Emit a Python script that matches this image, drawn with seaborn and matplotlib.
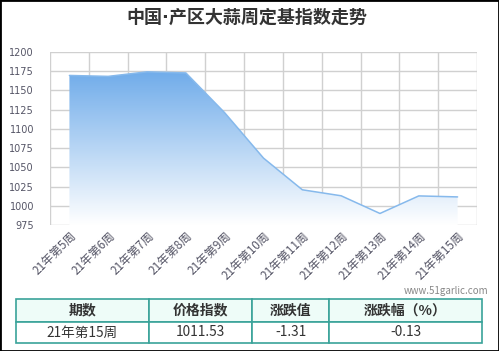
import numpy as np
import pandas as pd
import matplotlib
matplotlib.use('Agg')
import matplotlib.pyplot as plt
import seaborn as sns
from matplotlib.colors import LinearSegmentedColormap
from matplotlib.patches import Rectangle

# data
weeks = ['21年第5周', '21年第6周', '21年第7周', '21年第8周', '21年第9周', '21年第10周',
         '21年第11周', '21年第12周', '21年第13周', '21年第14周', '21年第15周']
index_vals = [1169.5, 1168.3, 1174.2, 1172.8, 1121.0, 1062.0, 1020.8, 1013.0, 990.0, 1012.84, 1011.53]
yticks = [975, 1000, 1025, 1050, 1075, 1100, 1125, 1150, 1175, 1200]
table_head = ['期数', '价格指数', '涨跌值', '涨跌幅（%）']
table_row = ['21年第15周', '1011.53', '-1.31', '-0.13']

sns.set_style('white')
plt.rcParams['font.family'] = ['Noto Sans CJK SC', 'DejaVu Sans']

df = pd.DataFrame({'week': weeks, 'value': index_vals})
df['pos'] = np.arange(len(df))

fig = plt.figure(figsize=(4.99, 3.51), dpi=100)
ax = fig.add_axes([50 / 499, 1 - 225 / 351, 427 / 499, 173 / 351])

# gradient area
poly = ax.fill_between(df['pos'], df['value'], 975, color='none', lw=0)
cmap = LinearSegmentedColormap.from_list('g', ['#ffffff', '#70acea'])
grad = np.linspace(0, 1, 256).reshape(-1, 1)
img = ax.imshow(grad, extent=[-0.5, 10.5, 975, 1175], origin='lower', aspect='auto',
                cmap=cmap, vmin=0, vmax=1, zorder=1)
img.set_clip_path(poly.get_paths()[0], transform=ax.transData)
sns.lineplot(data=df, x='pos', y='value', color='#86b9ec', lw=1.1, ax=ax, zorder=3)

ax.set_xlim(-0.5, 10.5)
ax.set_ylim(975, 1200)
ax.set_yticks(yticks)
ax.set_yticklabels([str(v) for v in yticks], fontsize=7, color='#555566',
                   family=['DejaVu Sans'])
ax.tick_params(axis='y', length=0, pad=11.5)

edges = np.arange(-0.5, 11, 1)
ax.set_xticks(edges)
ax.set_xticklabels([])
ax.set_xticks(df['pos'], minor=True)
ax.set_xticklabels(weeks, minor=True, rotation=45, ha='right', rotation_mode='anchor',
                   fontsize=8.5, color='#555566')
ax.tick_params(axis='x', which='major', length=8, color='#c8c8c8', width=1)
ax.tick_params(axis='x', which='minor', length=0, pad=3)
ax.grid(True, which='major', color='#d0d0d0', lw=1)
for g in ax.get_xgridlines() + ax.get_ygridlines():
    g.set_zorder(2)
for s in ax.spines.values():
    s.set_visible(False)
ax.set_xlabel('')
ax.set_ylabel('')

fig.text(0.495, 1 - 18 / 351, '中国·产区大蒜周定基指数走势', ha='center', va='center',
         fontsize=13, fontweight='bold', color='#333333',
         family=['DejaVu Sans', 'Noto Sans CJK SC'])
fig.text(488 / 499, 1 - 291 / 351, 'www.51garlic.com', ha='right', va='center',
         fontsize=7, color='#888888')

# summary table
tax = fig.add_axes([16 / 499, 1 - 343 / 351, 466 / 499, 44 / 351])
tax.axis('off')
tbl = tax.table(cellText=[table_row], colLabels=table_head, bbox=[0, 0, 1, 1],
                colWidths=[133, 103, 77, 153], cellLoc='center')
tbl.auto_set_font_size(False)
for (r, c), cell in tbl.get_celld().items():
    cell.set_edgecolor('#3aa39a')
    cell.set_linewidth(1.2)
    cell.get_text().set_color('#333333')
    if r == 0:
        cell.set_facecolor('#eefcf8')
        cell.set_height(23 / 44)
        cell.get_text().set_fontweight('bold')
        cell.get_text().set_fontsize(10)
    else:
        cell.set_facecolor('white')
        cell.set_height(21 / 44)
        cell.get_text().set_fontsize(9.8)

fig.patches.append(Rectangle((0, 0), 1, 1, transform=fig.transFigure, fill=False,
                             edgecolor='black', lw=2))
fig.savefig('out.png', dpi=100)
